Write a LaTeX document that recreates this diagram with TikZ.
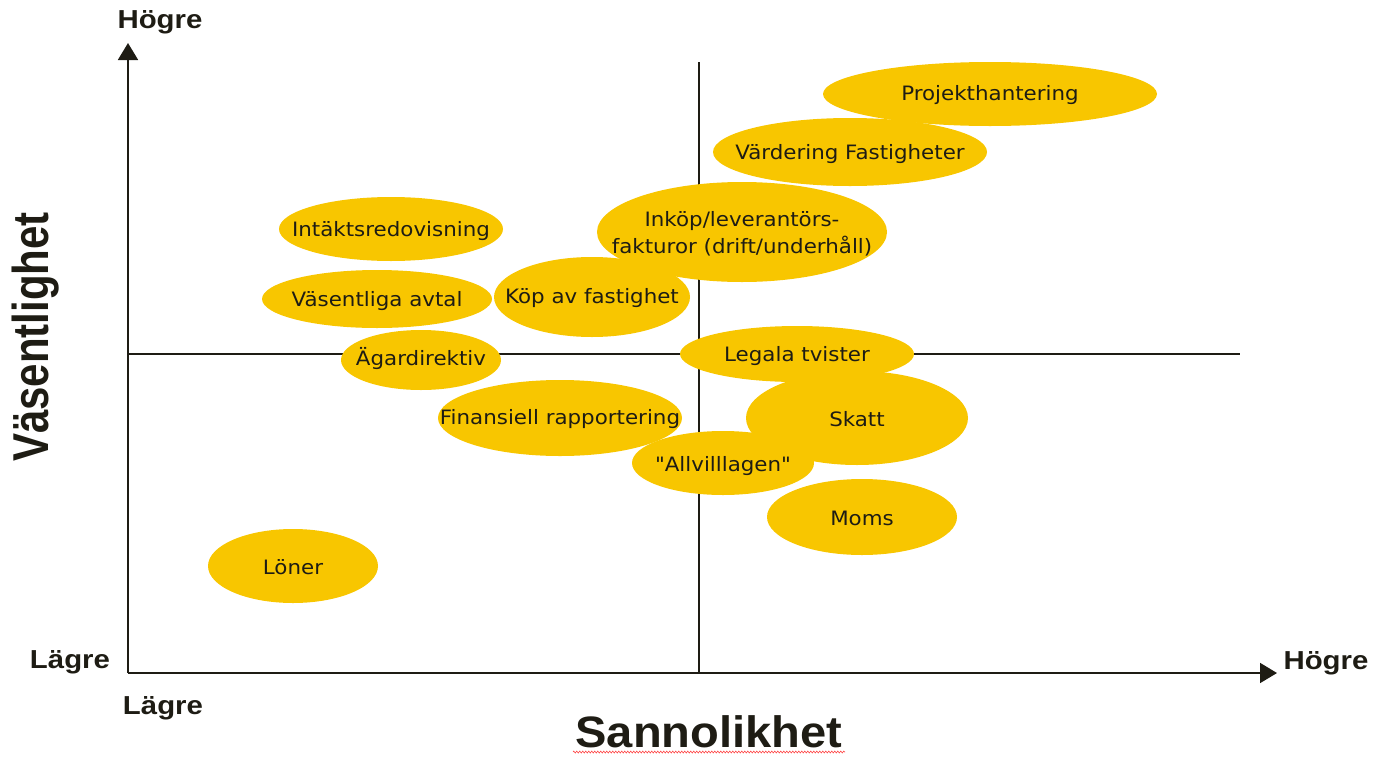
\documentclass[tikz,border=0pt]{standalone}
\usepackage{fontspec}
\usetikzlibrary{arrows.meta,decorations.pathmorphing}
\newfontfamily\lblfont[FakeStretch=1.08]{DejaVu Sans}
\newfontfamily\axfont[FakeStretch=1.13]{Liberation Sans}
\newfontfamily\bigfont[FakeStretch=1.07]{Liberation Sans}
\newfontfamily\vfont{Liberation Sans}
\definecolor{gold}{RGB}{248,198,0}
\definecolor{ink}{RGB}{30,28,20}
\tikzset{
  blob/.style={fill=gold},
  lbl/.style={text=ink, font=\lblfont\fontsize{19.8}{27}\selectfont, align=center, inner sep=0pt},
  axlbl/.style={text=ink, font=\axfont\bfseries\fontsize{26}{30}\selectfont, inner sep=0pt},
  axis/.style={draw=ink, line width=1.8pt},
  arr/.style={axis, -{Triangle[length=17pt,width=20pt]}},
  thin/.style={draw=ink, line width=1.5pt}
}
\begin{document}
\begin{tikzpicture}[x=1pt,y=-1pt]
\useasboundingbox (0,0) rectangle (1374,758);
% axes
\coordinate (o) at (128,673);
\coordinate (ytop) at (128,43);
\coordinate (xend) at (1277,673);
\coordinate (vtop) at (699,62);
\coordinate (vbot) at (699,673);
\coordinate (hl) at (128,354);
\coordinate (hr) at (1240,354);
\draw[thin] (vtop) -- (vbot);
\draw[thin] (hl) -- (hr);
\draw[arr] (o) -- (ytop);
\draw[arr] (o) -- (xend);
% ellipses
\fill[blob] (990,94) ellipse [x radius=167pt, y radius=32pt];
\fill[blob] (850,152) ellipse [x radius=137pt, y radius=34pt];
\fill[blob] (742,232) ellipse [x radius=145pt, y radius=50pt];
\fill[blob] (391,229) ellipse [x radius=112pt, y radius=32pt];
\fill[blob] (377,299) ellipse [x radius=115pt, y radius=29pt];
\fill[blob] (592,297) ellipse [x radius=98pt, y radius=40pt];
\fill[blob] (421,360) ellipse [x radius=80pt, y radius=30pt];
\fill[blob] (797,354) ellipse [x radius=117pt, y radius=28pt];
\fill[blob] (857,418) ellipse [x radius=111pt, y radius=47pt];
\fill[blob] (560,418) ellipse [x radius=122pt, y radius=38pt];
\fill[blob] (723,463) ellipse [x radius=91pt, y radius=32pt];
\fill[blob] (862,517) ellipse [x radius=95pt, y radius=38pt];
\fill[blob] (293,566) ellipse [x radius=85pt, y radius=37pt];
% labels
\node[lbl] (proj) at (990,95) {Projekthantering};
\node[lbl] (vard) at (850,154) {Värdering Fastigheter};
\node[lbl] (inkop) at (742,234) {Inköp/leverantörs-\\fakturor (drift/underhåll)};
\node[lbl] (intakt) at (391,231) {Intäktsredovisning};
\node[lbl] (avtal) at (377,301) {Väsentliga avtal};
\node[lbl] (kop) at (592,298) {Köp av fastighet};
\node[lbl] (agar) at (421,359) {Ägardirektiv};
\node[lbl] (legala) at (797,356) {Legala tvister};
\node[lbl] (skatt) at (857,419) {Skatt};
\node[lbl] (fin) at (560,419) {Finansiell rapportering};
\node[lbl] (allv) at (723,466) {"Allvilllagen"};
\node[lbl] (moms) at (862,518) {Moms};
\node[lbl] (loner) at (293,567) {Löner};
% axis labels
\node[axlbl] (hy) at (160,22) {Högre};
\node[axlbl] (ly) at (70,662) {Lägre};
\node[axlbl] (lx) at (163,708) {Lägre};
\node[axlbl] (hx) at (1326,663) {Högre};
\node[text=ink, font=\bigfont\bfseries\fontsize{44}{48}\selectfont, inner sep=0pt] (sann) at (709,732) {Sannolikhet};
\node[text=ink, font=\vfont\bfseries\fontsize{42}{46}\selectfont, inner sep=0pt, rotate=90] (vas) at (36,337) {\scalebox{1}[1.2]{Väsentlighet}};
\coordinate (wl) at (573,752);
\coordinate (wr) at (845,752);
\draw[red!70, line width=0.6pt, decorate, decoration={zigzag, amplitude=1pt, segment length=3pt}] (wl) -- (wr);
\end{tikzpicture}
\end{document}
